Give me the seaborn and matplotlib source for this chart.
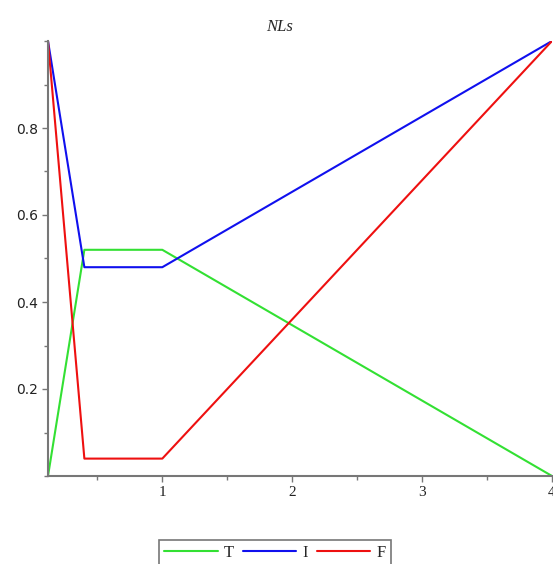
import matplotlib
matplotlib.use("Agg")
import matplotlib.pyplot as plt
import seaborn as sns
import pandas as pd
from matplotlib.ticker import MultipleLocator

x_vals = [0.12, 0.4, 1.0, 4.0]
T_vals = [0.0, 0.52, 0.52, 0.0]
I_vals = [1.0, 0.48, 0.48, 1.0]
F_vals = [1.0, 0.04, 0.04, 1.0]
series = ["T", "I", "F"]
colors = ["#33e033", "#1010ee", "#ee1010"]
x_ticks = [1, 2, 3, 4]
y_ticks = [0.2, 0.4, 0.6, 0.8]

rows = []
for name, vals in zip(series, [T_vals, I_vals, F_vals]):
    for xv, yv in zip(x_vals, vals):
        rows.append({"x": xv, "y": yv, "s": name})
df = pd.DataFrame(rows)

sns.set_style("white")
fig = plt.figure(figsize=(5.53, 5.64), dpi=100)
ax = fig.add_axes([48/553, 88/564, 504/553, 435/564])
sns.lineplot(data=df, x="x", y="y", hue="s", palette=dict(zip(series, colors)),
             sort=False, estimator=None, ax=ax, linewidth=1.5, legend=False)
ax.set_xlim(0.12, 4.0)
ax.set_ylim(0.0, 1.0)
ax.set_xticks(x_ticks)
ax.set_xticklabels([str(v) for v in x_ticks], family="Liberation Serif", fontsize=11)
ax.set_yticks(y_ticks)
ax.set_yticklabels([f"{v:.1f}" for v in y_ticks], family="DejaVu Sans", fontsize=10)
ax.xaxis.set_minor_locator(MultipleLocator(0.5))
ax.yaxis.set_minor_locator(MultipleLocator(0.1))
ax.tick_params(axis="both", which="major", direction="out", length=4, width=1, color="#777777", pad=3, labelcolor="#222222")
ax.tick_params(axis="both", which="minor", direction="out", length=3, width=1, color="#777777")
ax.tick_params(axis="x", which="both", bottom=True)
ax.tick_params(axis="y", which="both", left=True)
for s in ["top", "right"]:
    ax.spines[s].set_visible(False)
for s in ["left", "bottom"]:
    ax.spines[s].set_color("#777777")
    ax.spines[s].set_linewidth(1.5)
ax.set_xlabel("")
ax.set_ylabel("")

fig.text(280/553, 1 - 27/564, "NLs", ha="center", va="center",
         family="Liberation Serif", style="italic", fontsize=12)

handles = [plt.Line2D([], [], color=c, lw=1.5) for c in colors]
leg = fig.legend(handles, series, loc="center", bbox_to_anchor=(275/553, 1 - 553/564),
                 ncol=3, frameon=True, fancybox=False, handlelength=3.2, handletextpad=0.4,
                 columnspacing=0.5, borderpad=0.3, prop={"family": "Liberation Serif", "size": 12})
leg.get_frame().set_edgecolor("#555555")
leg.get_frame().set_linewidth(1.2)

fig.savefig("out.png", dpi=100)
